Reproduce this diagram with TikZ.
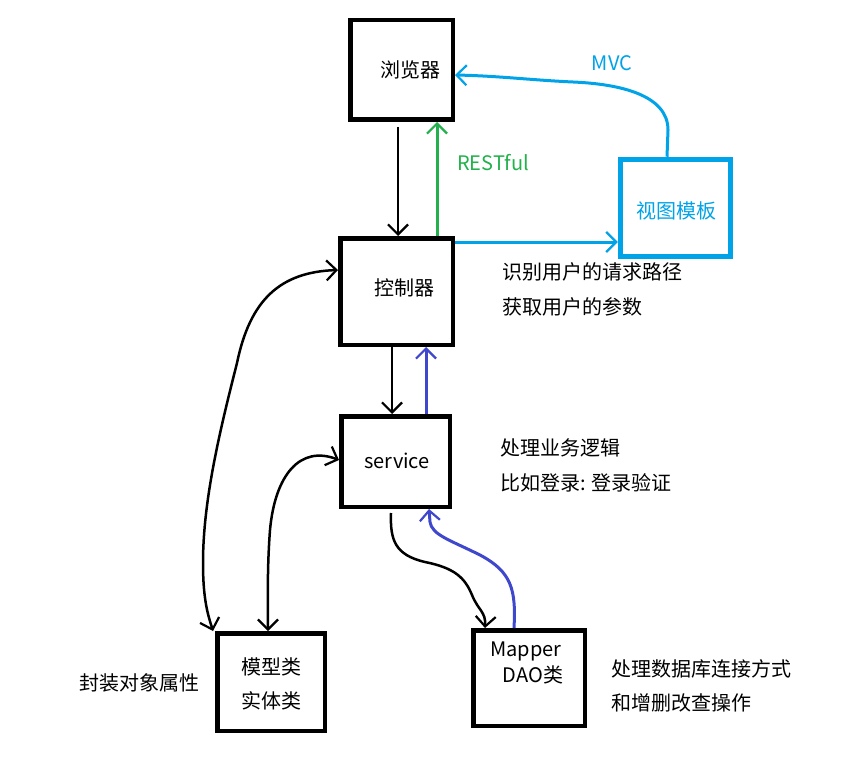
\documentclass[tikz,border=0pt]{standalone}
\usepackage{fontspec}
\setmainfont{Noto Sans CJK SC}
\usetikzlibrary{arrows.meta}
\definecolor{lblue}{HTML}{00A2E8}
\definecolor{pgreen}{HTML}{22B14C}
\definecolor{dblue}{HTML}{3F48CC}
\begin{document}
\begin{tikzpicture}[x=1pt,y=-1pt,
  box/.style={draw,line width=4.5pt,minimum width=#1,inner sep=0pt},
  txt/.style={font=\fontsize{20}{24}\selectfont,inner sep=0pt},
  ltxt/.style={txt,anchor=west},
  tip/.style={-{Straight Barb[length=10pt,width=20pt,line width=2.2pt]}},
  tips/.style={{Straight Barb[length=10pt,width=20pt,line width=2.2pt]}-{Straight Barb[length=10pt,width=20pt,line width=2.2pt]}},
  blk/.style={line width=2.5pt,black},
  col/.style={line width=3pt}]
\useasboundingbox (0,0) rectangle (845,762);
% boxes
\node[box=102.5pt,minimum height=99.5pt] (brw) at (401.5,70) {};
\node[box=112.5pt,minimum height=106.5pt] (ctl) at (396.5,291.5) {};
\node[box=108.5pt,minimum height=90.5pt] (svc) at (395.5,461.5) {};
\node[box=107.5pt,minimum height=97.5pt] (mdl) at (271,682) {};
\node[box=111.5pt,minimum height=95.5pt] (map) at (529,678) {};
\node[box=110.5pt,minimum height=97.5pt,draw=lblue,line width=5pt] (view) at (675.5,208) {};
% box texts
\node[txt] (tbrw) at (410,70) {浏览器};
\node[txt] (tctl) at (404,288) {控制器};
\node[txt] (tsvc) at (397,461) {service};
\node[txt] (tmdl1) at (271,667) {模型类};
\node[txt] (tmdl2) at (271,701) {实体类};
\node[txt] (tmap1) at (526,651) {Mapper};
\node[txt] (tmap2) at (533,675) {DAO类};
\node[txt,text=lblue] (tview) at (676,211) {视图模板};
% side texts
\node[txt] (tpack) at (139,683) {封装对象属性};
\node[ltxt] (c1) at (502,272) {识别用户的请求路径};
\node[ltxt] (c2) at (502,307) {获取用户的参数};
\node[ltxt] (s1) at (500,448) {处理业务逻辑};
\node[ltxt] (s2) at (500,483) {比如登录: 登录验证};
\node[ltxt] (m1) at (611,669) {处理数据库连接方式};
\node[ltxt] (m2) at (611,703) {和增删改查操作};
\node[txt,text=pgreen] (lrest) at (493,163) {RESTful};
\node[txt,text=lblue] (lmvc) at (612,63) {MVC};
% connectors
\draw[blk,tip] (398,0 |- brw.south) ++(0,5) -- (398,0 |- ctl.north);
\draw[col,pgreen,tip] (437,0 |- ctl.north) -- (437,0 |- brw.south);
\draw[col,lblue,tip] (ctl.east |- 0,242) -- (view.west |- 0,242);
\draw[col,lblue,tip] (667,0 |- view.north) -- (668,130)
  .. controls (668,95) and (620,84) .. (573,82)
  .. controls (530,80) and (500,76) .. (458,75 -| brw.east);
\draw[blk,tip] (392,0 |- ctl.south) -- (392,0 |- svc.north);
\draw[col,dblue,tip] (426,0 |- svc.north) -- (426,0 |- ctl.south);
\draw[blk,tips] (ctl.west |- 0,270)
  .. controls (280,272) and (250,300) .. (237,363)
  .. controls (220,430) and (203,500) .. (203,563)
  .. controls (203,600) and (208,615) .. (213,0 |- mdl.north);
\draw[blk,tips] (svc.west |- 0,460)
  .. controls (300,445) and (275,475) .. (270,530)
  .. controls (267,570) and (268,600) .. (268,0 |- mdl.north);
\draw[blk,tip] (391,513) .. controls (390,540) and (395,555) .. (425,562)
  .. controls (455,568) and (465,578) .. (472,595)
  .. controls (478,610) and (486,612) .. (485,0 |- map.north);
\draw[col,dblue,tip] (514,0 |- map.north) .. controls (516,590) and (512,572) .. (480,555)
  .. controls (450,540) and (432,535) .. (430,522)
  -- (429,0 |- svc.south);
\end{tikzpicture}
\end{document}
